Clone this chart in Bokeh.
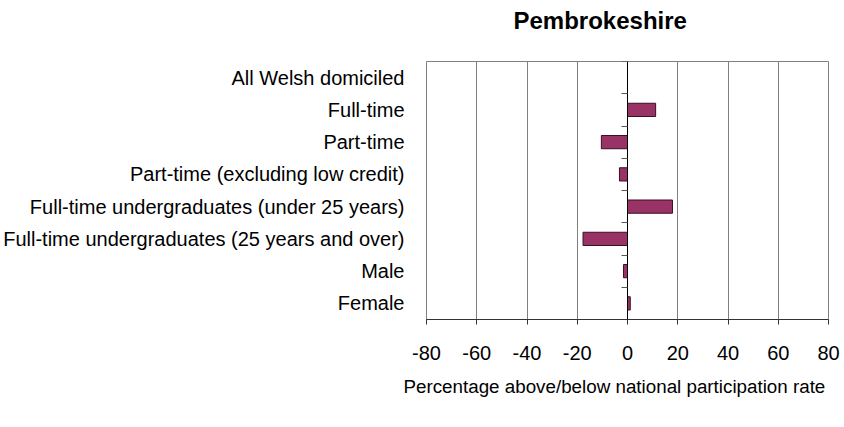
from bokeh.plotting import figure
from bokeh.models import Range1d, FixedTicker, LinearAxis, Title
from bokeh.embed import file_html
from bokeh.resources import INLINE

categories = [
    "All Welsh domiciled",
    "Full-time",
    "Part-time",
    "Part-time (excluding low credit)",
    "Full-time undergraduates (under 25 years)",
    "Full-time undergraduates (25 years and over)",
    "Male",
    "Female",
]
values = [0.0, 11.2, -10.4, -3.2, 17.9, -17.7, -1.6, 1.1]
x_ticks = [-80, -60, -40, -20, 0, 20, 40, 60, 80]
x_tick_labels = ["-80", "-60", "-40", "-20", "0", "20", "40", "60", "80"]
title_text = "Pembrokeshire"
x_title = "Percentage above/below national participation rate"

FONT = "Liberation Sans"
n = len(categories)
ypos = list(range(n - 1, -1, -1))

p = figure(width=844, height=427, output_backend="svg", toolbar_location=None,
           x_range=Range1d(x_ticks[0], x_ticks[-1]), y_range=Range1d(-0.5, n - 0.5),
           min_border_left=426, min_border_right=16, min_border_top=61, min_border_bottom=108)

xa = p.below[0]
ya = p.left[0]

p.hbar(y=ypos, left=0, right=values, height=0.41,
       fill_color="#993366", line_color="#3a0f25", line_width=1)

# x axis
xa.ticker = FixedTicker(ticks=x_ticks)
xa.major_label_overrides = {t: s for t, s in zip(x_ticks, x_tick_labels)}
xa.major_label_text_font = FONT
xa.major_label_text_font_size = "20px"
xa.major_label_text_color = "black"
xa.major_tick_in = 0
xa.major_tick_out = 5
xa.minor_tick_line_color = None
xa.axis_line_color = "#333333"
xa.major_tick_line_color = "#333333"
xa.major_label_standoff = 21

# category axis
ya.ticker = FixedTicker(ticks=ypos)
ya.major_label_overrides = {y: c for y, c in zip(ypos, categories)}
ya.major_label_text_font = FONT
ya.major_label_text_font_size = "20px"
ya.major_label_text_color = "black"
ya.axis_line_color = None
ya.major_tick_line_color = None
ya.minor_tick_line_color = None
ya.major_tick_out = 0
ya.major_tick_in = 0
ya.major_label_standoff = 22

# invisible spacer between title and frame
spacer = LinearAxis(ticker=FixedTicker(ticks=[0]), major_label_overrides={0: ""},
                    major_label_text_font_size="1px", major_tick_out=23, major_tick_in=0,
                    axis_line_color=None, major_tick_line_color=None,
                    minor_tick_line_color=None, major_label_standoff=0)
p.add_layout(spacer, "above")

# title
p.title.text = title_text
p.title.text_font = FONT
p.title.text_font_size = "24px"
p.title.text_font_style = "bold"
p.title.align = "left"
p.title.offset = 87
p.title.standoff = 9
p.title.text_color = "black"

# x axis title (below the tick labels)
p.add_layout(Title(text=x_title, text_font=FONT, text_font_size="18.8px",
                   text_font_style="normal", text_color="black",
                   align="left", offset=-23, standoff=22), "below")

# zero axis with boundary ticks
bounds = [k + 0.5 for k in range(n)]
za = LinearAxis(fixed_location=0, ticker=FixedTicker(ticks=bounds),
                major_label_overrides={b: "" for b in bounds},
                major_label_text_font_size="0px",
                major_tick_in=0, major_tick_out=6,
                minor_tick_line_color=None,
                axis_line_color="black", major_tick_line_color="#555555")
p.add_layout(za, "left")

# grid
p.xgrid.ticker = FixedTicker(ticks=x_ticks)
p.xgrid.grid_line_color = "#808080"
p.ygrid.visible = False
p.outline_line_color = "#808080"
p.background_fill_color = "white"
p.border_fill_color = "white"

open("out.html", "w").write(file_html(p, INLINE))
